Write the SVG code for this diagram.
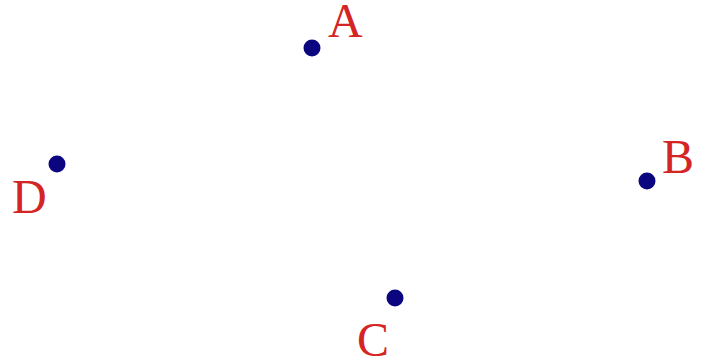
<svg xmlns="http://www.w3.org/2000/svg" width="704" height="362" viewBox="0 0 704 362">
<style>
.pt{fill:#0b0580}
.lb{font-family:"Liberation Serif","Times New Roman",serif;font-size:48px;fill:#d42424}
</style>
<rect width="704" height="362" fill="#ffffff"/>
<g id="A"><circle class="pt" cx="312" cy="48" r="8.5"/><text class="lb" x="328" y="37">A</text></g>
<g id="B"><circle class="pt" cx="647" cy="181" r="8.5"/><text class="lb" x="662" y="173">B</text></g>
<g id="C"><circle class="pt" cx="395" cy="298" r="8.5"/><text class="lb" x="357" y="356">C</text></g>
<g id="D"><circle class="pt" cx="57" cy="164" r="8.5"/><text class="lb" x="12" y="213">D</text></g>
<g id="connectors"></g>
</svg>
